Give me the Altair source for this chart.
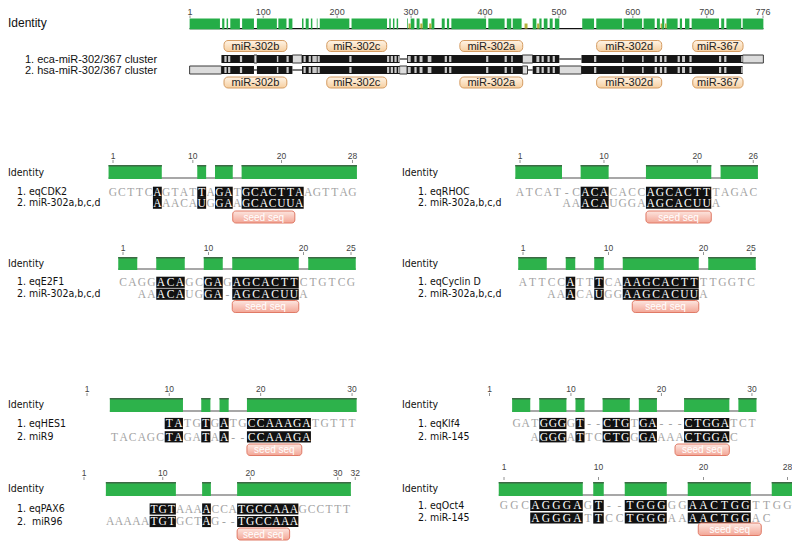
import altair as alt
import pandas as pd

# ------------------------------------------------------------------ data
# overview of the miR-302/367 cluster alignment (alignment columns 1..776)
TOP_LEN = 776
TOP_TICKS = [1, 100, 200, 300, 400, 500, 600, 700, 776]
# columns where the identity bar is interrupted (start, end)
TOP_MISMATCH = [(42, 44), (48, 50), (53, 55), (69, 71), (88, 91), (119, 120), (132, 134),
                (140, 152), (155, 157), (162, 164), (167, 172), (174, 176), (217, 219),
                (268, 270), (273, 275), (278, 280), (283, 284), (285, 294), (296, 299),
                (305, 307), (312, 315), (323, 327), (332, 341), (346, 348), (352, 354),
                (402, 404), (427, 429), (436, 437), (450, 464), (470, 473), (477, 479),
                (485, 487), (492, 494), (501, 531), (548, 550), (586, 587), (613, 614),
                (630, 632), (637, 639), (643, 645), (661, 663), (667, 670), (677, 679),
                (717, 719), (724, 726), (747, 748)]
# columns with partial identity (olive marks)
TOP_PARTIAL = [(297, 299), (313, 315), (325, 327), (454, 457), (471, 473), (638, 639), (644, 645)]
# sequence tracks: (start, end, kind)
TOP_SEQ1 = [(44, 87, "dark"), (88, 91, "light"), (92, 139, "dark"), (140, 152, "light"),
            (153, 284, "dark"), (285, 294, "gap"), (295, 450, "dark"), (451, 464, "light"),
            (465, 500, "dark"), (501, 530, "gap"), (531, 748, "dark"), (749, 776, "light")]
TOP_SEQ2 = [(1, 43, "light"), (44, 87, "dark"), (88, 91, "gap"), (92, 139, "dark"),
            (140, 152, "gap"), (153, 284, "dark"), (285, 294, "light"), (295, 450, "dark"),
            (451, 457, "light"), (458, 464, "gap"), (465, 500, "dark"), (501, 530, "light"),
            (531, 748, "dark")]
TOP_ANNOT_NAMES = ["miR-302b", "miR-302c", "miR-302a", "miR-302d", "miR-367"]
TOP_ANNOT_START = [47, 186, 366, 551, 681]
TOP_ANNOT_END = [132, 267, 451, 639, 749]
TOP_SEQ_NAMES = ["1. eca-miR-302/367 cluster", "2. hsa-miR-302/367 cluster"]

# target / miRNA alignments
TARGET_NAMES = ["eqCDK2", "eqRHOC", "eqE2F1", "eqCyclin D", "eqHES1", "eqKlf4", "eqPAX6", "eqOct4"]
MIRNA_NAMES = ["miR-302a,b,c,d", "miR-302a,b,c,d", "miR-302a,b,c,d", "miR-302a,b,c,d",
               "miR9", "miR-145", "\u00a0miR96", "miR-145"]
TARGET_SEQS = ["GCTTCAGTATTAGATGCACTTAAGTTAG", "ATCAT-CACACACCAGCACTTTAGAC",
               "CAGGACAGCGAGAGCACTTCTGTCG", "ATTCCATTTCAAAGCACTTTTGGTC",
               "TATGTGATGCCAAAGATGTTT", "GATGGGGT--CTGTGA---CTGGATCT",
               "TGTAAAACCATGCCAAAGCCTTT", "GGCAGGGAGT--TGGGGGAACTGGTTGG"]
TARGET_START = [1, 1, 1, 1, 10, 4, 9, 1]
MIRNA_SEQS = ["AAACAUGGAAGCACUUA", "AAACAUGGAAGCACUUA", "AAACAUGGA-AGCACUUA",
              "AAACAUGGAAGCACUUA", "TACAGCTAGATAA--CCAAAGA", "AGGGATTCCTGGGAAAACTGGAC",
              "AAAAATGTGCTAG--TGCCAAA", "AGGGATTCCTGGGAAAACTGGAC"]
MIRNA_START = [6, 6, 3, 4, 4, 6, 4, 4]
RULER_TICKS = [[1, 10, 20, 28], [1, 10, 20, 26], [1, 10, 20, 25], [1, 10, 20, 25],
               [1, 10, 20, 30], [1, 10, 20, 30], [1, 10, 20, 30, 32], [1, 10, 20, 28]]
SEED_START = [15, 15, 13, 13, 19, 22, 19, 20]
SEED_END = [21, 21, 19, 19, 24, 27, 24, 25]

# ------------------------------------------------------------------ layout / style
OX = OY = 8            # page margin
W, H = 784, 533        # drawing area

# x placement of each panel: pixel of column 1 and column width
TOP_X = (190, 573 / 775)
PANEL_X = [(113, 8.87), (520, 9.33), (123, 9.5), (523, 9.5),
           (87, 9.14), (489.5, 9.05), (84, 8.75), (504, 10.5)]
# vertical tracks of each panel row
ROWS = [
    dict(ruler=156, gt=165, gb=179, s1=192.3, s2=203.2, seed=(211, 223), ident=172.5),
    dict(ruler=248, gt=257, gb=270, s1=282.3, s2=294.2, seed=(300.5, 312.5), ident=263.5),
    dict(ruler=388.5, gt=398, gb=412, s1=423.5, s2=436.8, seed=(444, 455.5), ident=405),
    dict(ruler=473, gt=482, gb=496, s1=509, s2=521.5, seed=(528, 540), ident=489),
    dict(ruler=467, gt=482, gb=496, s1=505.5, s2=518, seed=(523, 535.5), ident=489),
]
PANEL_ROW = [0, 0, 1, 1, 2, 2, 3, 4]
LABEL_X = [(8, 17), (402, 418)]

SANS = "Liberation Sans, Arial, Helvetica, sans-serif"
NARROW = "Liberation Sans Narrow, Arial Narrow, DejaVu Sans Condensed, Liberation Sans, sans-serif"
SERIF = "Liberation Serif, Times New Roman, serif"
GREEN = "#2db24b"
GREEN_EDGE = "#3c6a44"

PEACH = alt.LinearGradient(gradient="linear", x1=0, y1=0, x2=0, y2=1,
                           stops=[alt.GradientStop(color="#fff4e6", offset=0),
                                  alt.GradientStop(color="#f6cfa0", offset=1)])
PINK = alt.LinearGradient(gradient="linear", x1=0, y1=0, x2=0, y2=1,
                          stops=[alt.GradientStop(color="#fde6e0", offset=0),
                                 alt.GradientStop(color="#f3a696", offset=1)])


def Y(v):
    return alt.value(v - OY)


def LX(v):
    return alt.value(v - OX)


def xscale(a, c):
    d0 = 1 - (a - OX) / c
    return alt.Scale(domain=[d0, d0 + W / c], nice=False, zero=False)


def XQ(field, sc):
    return alt.X(f"{field}:Q", scale=sc, axis=None)


def runs(flags):
    """flags: dict pos->bool ; returns list of (start,end) runs of True"""
    out = []
    cur = None
    for p in sorted(flags):
        if flags[p]:
            if cur and cur[1] == p - 1:
                cur[1] = p
            else:
                cur = [p, p]
                out.append(cur)
        else:
            cur = None
    return [tuple(r) for r in out]


def seg_df(segs):
    return pd.DataFrame({"x0": [s - 0.5 for s, e in segs], "x1": [e + 0.5 for s, e in segs]})


def label(text, x, y, size=11, font=SANS, color="#111"):
    return alt.Chart(pd.DataFrame({"t": [text]})).mark_text(
        align="left", baseline="middle", font=font, fontSize=size, color=color
    ).encode(x=LX(x), y=Y(y), text="t:N")


layers = []

# ------------------------------------------------------------------ overview panel
ts = xscale(*TOP_X)
dft = pd.DataFrame({"pos": TOP_TICKS, "lab": [str(t) for t in TOP_TICKS]})
layers.append(alt.Chart(dft).mark_rule(color="#777", strokeWidth=0.8).encode(
    x=XQ("pos", ts), y=Y(15.5), y2=Y(18)))
layers.append(alt.Chart(dft).mark_text(font=SANS, fontSize=9, color="#444", baseline="middle").encode(
    x=XQ("pos", ts), y=Y(11.5), text="lab:N"))
layers.append(label("Identity", 8, 22.7, size=12))

layers.append(alt.Chart(seg_df([(1, TOP_LEN)])).mark_rule(color="#111", strokeWidth=1.3).encode(
    x=XQ("x0", ts), x2="x1", y=Y(28.6)))
mism = set()
for s, e in TOP_MISMATCH:
    mism.update(range(s, e + 1))
top_ident = {p: p not in mism for p in range(1, TOP_LEN + 1)}
layers.append(alt.Chart(seg_df(runs(top_ident))).mark_rect(color="#25ad47").encode(
    x=XQ("x0", ts), x2="x1", y=Y(18.5), y2=Y(29.3)))
layers.append(alt.Chart(seg_df(TOP_PARTIAL)).mark_rect(color="#b4b23c").encode(
    x=XQ("x0", ts), x2="x1", y=Y(23.5), y2=Y(28.6)))

dfa = pd.DataFrame({"name": TOP_ANNOT_NAMES, "x0": TOP_ANNOT_START, "x1": TOP_ANNOT_END,
                    "mid": [(s + e) / 2 for s, e in zip(TOP_ANNOT_START, TOP_ANNOT_END)]})
for y0, y1 in [(40.5, 51.5), (77, 88)]:
    layers.append(alt.Chart(dfa).mark_rect(fill=PEACH, stroke="#d59c62", strokeWidth=1,
                                            cornerRadius=4).encode(
        x=XQ("x0", ts), x2="x1", y=Y(y0), y2=Y(y1)))
    layers.append(alt.Chart(dfa).mark_text(font=SANS, fontSize=11, color="#222", baseline="middle").encode(
        x=XQ("mid", ts), y=Y((y0 + y1) / 2 + 0.5), text="name:N"))

for segs, (y0, y1) in [(TOP_SEQ1, (55, 63)), (TOP_SEQ2, (66, 74))]:
    dark = [(s, e) for s, e, k in segs if k == "dark"]
    light = [(s, e) for s, e, k in segs if k == "light"]
    gap = [(s, e) for s, e, k in segs if k == "gap"]
    layers.append(alt.Chart(seg_df(gap)).mark_rule(color="#222", strokeWidth=1.2).encode(
        x=XQ("x0", ts), x2="x1", y=Y((y0 + y1) / 2)))
    layers.append(alt.Chart(seg_df(light)).mark_rect(fill="#dcdcdc", stroke="#3a3a3a", strokeWidth=1).encode(
        x=XQ("x0", ts), x2="x1", y=Y(y0), y2=Y(y1)))
    layers.append(alt.Chart(seg_df(dark)).mark_rect(color="#161616").encode(
        x=XQ("x0", ts), x2="x1", y=Y(y0), y2=Y(y1)))
    stripes = []
    for ms, me in TOP_MISMATCH:
        if me - ms > 8:
            continue
        for s, e in dark:
            if ms >= s and me <= e:
                stripes.append((ms, me))
    layers.append(alt.Chart(seg_df(stripes)).mark_rect(color="#c9c9c9").encode(
        x=XQ("x0", ts), x2="x1", y=Y(y0 + 1), y2=Y(y1 - 1)))
layers.append(label(TOP_SEQ_NAMES[0], 25, 59.5, size=11))
layers.append(label(TOP_SEQ_NAMES[1], 25, 70.5, size=11))

# ------------------------------------------------------------------ small alignment panels
for i in range(8):
    a, c = PANEL_X[i]
    sc = xscale(a, c)
    r = ROWS[PANEL_ROW[i]]
    lx_id, lx_nm = LABEL_X[i % 2]

    seq1 = {TARGET_START[i] + k: ch for k, ch in enumerate(TARGET_SEQS[i])}
    seq2 = {MIRNA_START[i] + k: ch for k, ch in enumerate(MIRNA_SEQS[i])}
    cols = sorted(set(seq1) | set(seq2))
    ident, same = {}, set()
    for p in cols:
        c1, c2 = seq1.get(p), seq2.get(p)
        if c1 is None or c2 is None:
            ident[p] = True
        elif c1 == "-" or c2 == "-":
            ident[p] = False
        else:
            m = c1.replace("U", "T") == c2.replace("U", "T")
            ident[p] = m
            if m:
                same.add(p)

    # ruler
    dr = pd.DataFrame({"pos": RULER_TICKS[i], "lab": [str(t) for t in RULER_TICKS[i]]})
    layers.append(alt.Chart(dr).mark_rule(color="#777", strokeWidth=0.8).encode(
        x=XQ("pos", sc), y=Y(r["gt"] - 5), y2=Y(r["gt"] - 2)))
    layers.append(alt.Chart(dr).mark_text(font=SANS, fontSize=8.5, color="#444", baseline="middle").encode(
        x=XQ("pos", sc), y=Y(r["ruler"]), text="lab:N"))

    # identity
    layers.append(alt.Chart(seg_df([(cols[0], cols[-1])])).mark_rule(color="#8a8a8a", strokeWidth=1.6).encode(
        x=XQ("x0", sc), x2="x1", y=Y(r["gb"] - 1)))
    green = seg_df(runs(ident))
    layers.append(alt.Chart(green).mark_rect(color=GREEN).encode(
        x=XQ("x0", sc), x2="x1", y=Y(r["gt"]), y2=Y(r["gb"])))
    layers.append(alt.Chart(green).mark_rule(color=GREEN_EDGE, strokeWidth=1.5).encode(
        x=XQ("x0", sc), x2="x1", y=Y(r["gt"] + 0.75)))

    # sequences
    hl_runs = seg_df(runs({p: p in same for p in cols}))
    for seq, yy in [(seq1, r["s1"]), (seq2, r["s2"])]:
        layers.append(alt.Chart(hl_runs).mark_rect(color="#111").encode(
            x=XQ("x0", sc), x2="x1", y=Y(yy - 5.6), y2=Y(yy + 5.6)))
        dl = pd.DataFrame({"pos": list(seq.keys()), "ch": list(seq.values()),
                           "hl": ["y" if p in same else "n" for p in seq]})
        layers.append(alt.Chart(dl).mark_text(font=SERIF, fontSize=11.5, baseline="middle").encode(
            x=XQ("pos", sc), y=Y(yy + 0.8), text="ch:N",
            color=alt.Color("hl:N", scale=alt.Scale(domain=["y", "n"], range=["#ffffff", "#a3a3a3"]),
                            legend=None)))

    # seed sequence box
    y0, y1 = r["seed"]
    ds = pd.DataFrame({"x0": [SEED_START[i] - 0.5], "x1": [SEED_END[i] + 0.5],
                       "mid": [(SEED_START[i] + SEED_END[i]) / 2], "t": ["seed seq"]})
    layers.append(alt.Chart(ds).mark_rect(color="#c8c8c8", cornerRadius=3, xOffset=1.5, yOffset=1.5,
                                          opacity=0.7).encode(
        x=XQ("x0", sc), x2="x1", y=Y(y0), y2=Y(y1)))
    layers.append(alt.Chart(ds).mark_rect(fill=PINK, stroke="#e07a66", strokeWidth=1, cornerRadius=3).encode(
        x=XQ("x0", sc), x2="x1", y=Y(y0), y2=Y(y1)))
    layers.append(alt.Chart(ds).mark_text(font=SANS, fontSize=10, color="#ffffff", baseline="middle").encode(
        x=XQ("mid", sc), y=Y((y0 + y1) / 2 + 0.5), text="t:N"))

    # row labels
    layers.append(label("Identity", lx_id, r["ident"], size=10.5, font=NARROW))
    layers.append(label(f"1. {TARGET_NAMES[i]}", lx_nm, r["s1"], size=10.5, font=NARROW))
    layers.append(label(f"2. {MIRNA_NAMES[i]}", lx_nm, r["s2"], size=10.5, font=NARROW))

chart = alt.layer(*layers).resolve_scale(x="independent").properties(
    width=W, height=H, padding=0, autosize=alt.AutoSizeParams(type="none")
).configure_view(stroke=None)

chart.save("out.html", embed_options={"renderer": "svg", "actions": False})
